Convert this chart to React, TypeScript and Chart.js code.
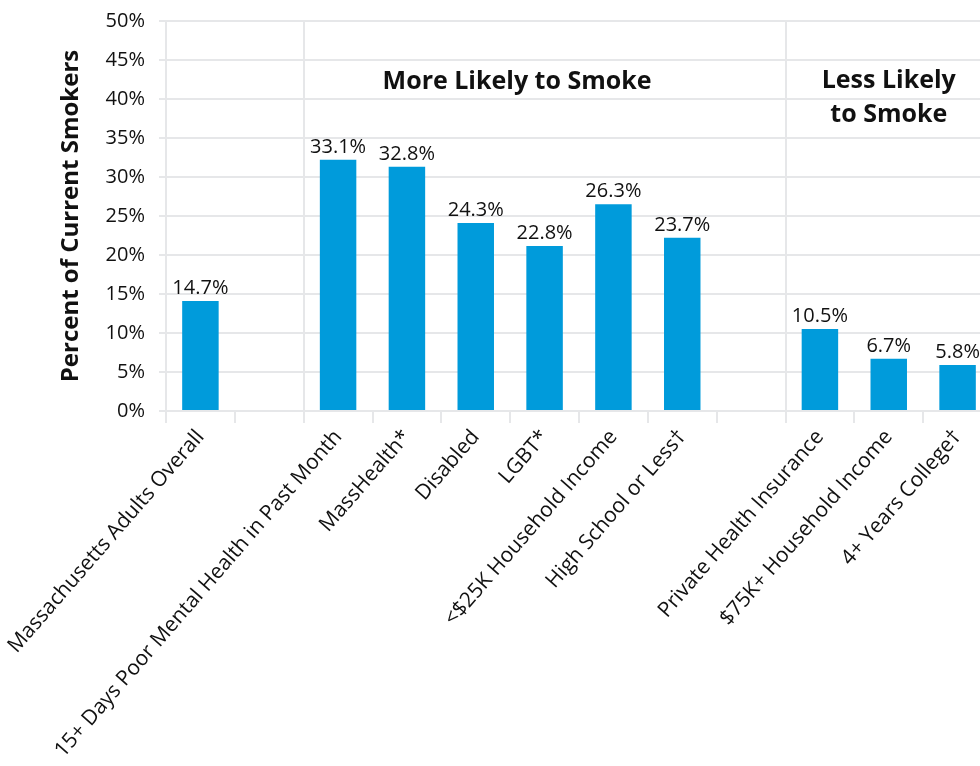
import React, { useEffect, useRef } from "react";
import { Chart, registerables } from "chart.js";

Chart.register(...registerables);

// ---------- data ----------
const categories: string[] = [
  "Massachusetts Adults Overall",
  "",
  "15+ Days Poor Mental Health in Past Month",
  "MassHealth*",
  "Disabled",
  "LGBT*",
  "<$25K Household Income",
  "High School or Less\u2020",
  "",
  "Private Health Insurance",
  "$75K+ Household Income",
  "4+ Years College\u2020",
];

// bar heights as drawn in the picture (percent)
const barValues: (number | null)[] = [14.1, null, 32.2, 31.3, 24.1, 21.15, 26.5, 22.2, null, 10.5, 6.7, 5.9];

// printed value labels
const barLabels: string[] = ["14.7%", "", "33.1%", "32.8%", "24.3%", "22.8%", "26.3%", "23.7%", "", "10.5%", "6.7%", "5.8%"];

const yMin = 0;
const yMax = 50;
const yStep = 5;

// category indices whose left boundary carries a group separator line
const separatorIndices: number[] = [2, 9];

const groupTitleLines: string[][] = [["More Likely to Smoke"], ["Less Likely", "to Smoke"]];
const groupTitleAt: number[] = [4.6, 10.0]; // category position (decimal index)
const groupTitleY: number[][] = [[42.2], [42.3, 38.0]]; // value positions (percent)

const yTitle = "Percent of Current Smokers";

// ---------- style ----------
const FONT = '"Open Sans", "Noto Sans", sans-serif';
const BAR = "#009BDB";
const GRID = "#E6E7E9";
const TEXT = "#111111";

const labelPlugin = {
  id: "barLabels",
  afterDatasetsDraw(chart: any) {
    const ctx = chart.ctx;
    const meta = chart.getDatasetMeta(0);
    ctx.save();
    ctx.font = `20px ${FONT}`;
    ctx.fillStyle = TEXT;
    ctx.textAlign = "center";
    ctx.textBaseline = "alphabetic";
    meta.data.forEach((bar: any, i: number) => {
      const t = barLabels[i];
      if (!t || !isFinite(bar.y)) return;
      ctx.fillText(t, bar.x, bar.y - 7);
    });
    ctx.restore();
  },
};

const groupPlugin = {
  id: "groupTitles",
  afterDraw(chart: any) {
    const ctx = chart.ctx;
    const xs = chart.scales.x;
    const ys = chart.scales.y;
    ctx.save();
    ctx.font = `bold 25px ${FONT}`;
    ctx.fillStyle = TEXT;
    ctx.textAlign = "center";
    ctx.textBaseline = "middle";
    groupTitleLines.forEach((lines, g) => {
      const x = xs.getPixelForValue(groupTitleAt[g]);
      lines.forEach((line, j) => {
        ctx.fillText(line, x, ys.getPixelForValue(groupTitleY[g][j]));
      });
    });
    ctx.restore();
  },
};

export default function App() {
  const ref = useRef<HTMLCanvasElement | null>(null);

  useEffect(() => {
    const canvas = ref.current;
    if (!canvas) return;
    const chart = new Chart(canvas, {
      type: "bar",
      data: {
        labels: categories,
        datasets: [
          {
            data: barValues as any,
            backgroundColor: BAR,
            borderWidth: 0,
            barPercentage: 0.53,
            categoryPercentage: 1,
          },
        ],
      },
      options: {
        animation: false,
        responsive: false,
        devicePixelRatio: 1,
        layout: { padding: { left: 0, right: 8, top: 21, bottom: 0 } },
        plugins: {
          legend: { display: false },
          tooltip: { enabled: false },
          title: { display: false },
        },
        scales: {
          x: {
            type: "category",
            offset: true,
            grid: {
              offset: true,
              display: true,
              drawOnChartArea: true,
              drawTicks: true,
              tickLength: 12,
              lineWidth: 2,
              tickWidth: 2,
              tickColor: GRID,
              color: (c: any) => (separatorIndices.includes(c.index) ? GRID : "rgba(0,0,0,0)"),
            },
            border: { display: true, color: GRID, width: 2 },
            ticks: {
              autoSkip: false,
              maxRotation: 49,
              minRotation: 49,
              padding: 2,
              color: TEXT,
              font: { family: FONT, size: 21 },
            },
            afterFit: (s: any) => {
              s.height = 355;
              s.paddingLeft = 0;
              s.paddingRight = 0;
            },
          },
          y: {
            type: "linear",
            min: yMin,
            max: yMax,
            grid: {
              color: GRID,
              lineWidth: 2,
              tickLength: 7,
              drawTicks: true,
            },
            border: { display: true, color: GRID, width: 2 },
            ticks: {
              stepSize: yStep,
              padding: 14,
              color: TEXT,
              font: { family: FONT, size: 20 },
              callback: (v: any) => `${v}%`,
            },
            title: {
              display: true,
              text: yTitle,
              color: TEXT,
              font: { family: FONT, size: 24, weight: "bold" },
              padding: { top: 57, bottom: 0 },
            },
            afterFit: (s: any) => {
              s.width = 166;
              s.paddingTop = 0;
              s.paddingBottom = 0;
            },
          },
        },
      },
      plugins: [labelPlugin, groupPlugin],
    });
    return () => chart.destroy();
  }, []);

  return (
    <div
      style={{
        position: "fixed",
        left: 0,
        top: 0,
        width: 980,
        height: 766,
        overflow: "hidden",
        background: "#fff",
      }}
    >
      <canvas ref={ref} width={1000} height={766} style={{ display: "block", width: 1000, height: 766 }} />
    </div>
  );
}
